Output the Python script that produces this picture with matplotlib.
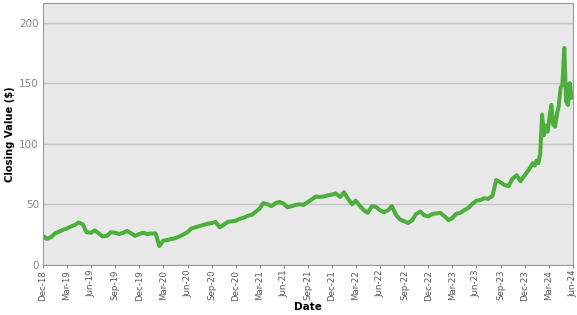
import matplotlib
matplotlib.use("Agg")
import matplotlib.pyplot as plt
import matplotlib.dates as mdates
import pandas as pd

# closing values
# semi-monthly points (1st and 15th) from Dec-2018 to Dec-2023
semi_start = "2018-12-01"
semi_values = [
    24, 21.5, 23, 26, 27.5, 29, 30, 31.5, 33, 35,
    33.5, 27, 26.5, 28.5, 26, 23.5, 24, 27, 26.5, 25.5,
    26.5, 28, 26, 24, 25.5, 26.5, 25.5, 26, 26, 15.5,
    20, 20.5, 21.5, 22, 23.5, 25, 27, 30, 31, 32,
    33, 34, 34.5, 35.5, 31, 33, 35.5, 36, 36.5, 38,
    39, 40.5, 41.5, 44, 46.5, 51, 50, 48.5, 51, 52,
    50.5, 47.5, 48.5, 49.5, 50, 49.5, 52, 54, 56.5, 56,
    56.5, 57.5, 58, 59, 56, 60, 54, 50, 53, 49,
    45, 43, 48.5, 48, 45, 43.5, 45, 48.5, 41, 37.5,
    36, 34.5, 37, 42, 44, 41, 40, 42, 42.5, 43,
    40, 37, 38.5, 42, 43, 45, 47, 50, 53, 53.5,
    55, 54.5, 57, 70, 68, 66, 65, 71, 74, 69,
    74, 78,
]
# weekly points for 2024
weekly_start = "2024-01-01"
weekly_values = [
    84, 82, 86, 84, 92, 124, 107, 115, 110, 122,
    132, 116, 114, 124, 131, 146, 149, 179, 135, 132,
    150, 138,
]

semi_dates = pd.date_range(semi_start, periods=len(semi_values), freq="SMS")
weekly_dates = pd.date_range(weekly_start, periods=len(weekly_values), freq="7D")
dates = list(semi_dates) + list(weekly_dates)
values = semi_values + weekly_values

fig = plt.figure(figsize=(5.77, 3.15), dpi=100)
ax = fig.add_axes([0.0745, 0.159, 0.9185, 0.831])
ax.set_facecolor("#e8e8e8")

ax.plot(dates, values, color="#4caf3c", linewidth=2.9, solid_joinstyle="round")

ax.set_ylim(0, 216)
ax.set_yticks([0, 50, 100, 150, 200])
ax.set_xlim(pd.Timestamp("2018-12-01"), pd.Timestamp("2024-06-01"))
ax.xaxis.set_major_locator(mdates.MonthLocator(bymonth=[3, 6, 9, 12]))
ax.xaxis.set_major_formatter(mdates.DateFormatter("%b-%y"))

ax.grid(axis="y", color="#c4c4c4", linewidth=1)
ax.set_axisbelow(True)
for s in ax.spines.values():
    s.set_color("#9a9a9a")

ax.tick_params(axis="x", labelrotation=90, labelsize=6.2, colors="#8a8a8a",
               labelcolor="#555555", length=2, pad=1.5)
ax.tick_params(axis="y", labelsize=7.5, colors="#8a8a8a", labelcolor="#888888", length=0, pad=3)

ax.set_xlabel("Date", fontsize=7.5, fontweight="bold", labelpad=1)
ax.set_ylabel("Closing Value ($)", fontsize=7.2, fontweight="bold")
ax.yaxis.set_label_coords(-0.052, 0.5)

fig.savefig("out.png", dpi=100)
